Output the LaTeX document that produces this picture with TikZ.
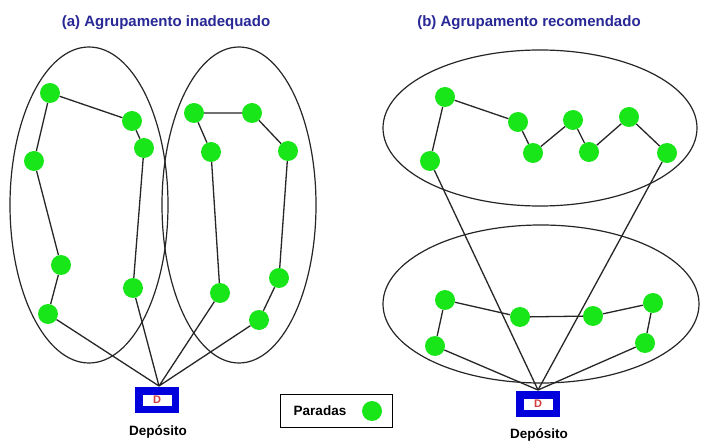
\documentclass[tikz,border=0pt]{standalone}
\usepackage{fontspec}
\setmainfont{Liberation Sans}
\definecolor{stopgreen}{RGB}{25,230,25}
\definecolor{titleblue}{RGB}{40,40,150}
\definecolor{depotblue}{RGB}{0,0,220}
\definecolor{dred}{RGB}{210,60,60}
\begin{document}
\begin{tikzpicture}[x=1pt,y=-1pt,
  stop/.style={circle,fill=stopgreen,minimum size=20pt,inner sep=0pt},
  route/.style={draw=black!85,line width=1.3pt},
  zone/.style={draw=black!85,line width=1.2pt},
  depot/.style={draw=depotblue,line width=7.5pt,fill=white,minimum width=36.5pt,minimum height=18.5pt,inner sep=0pt,font=\bfseries\fontsize{11}{11}\selectfont,text=dred},
  ttl/.style={font=\bfseries\fontsize{15}{17}\selectfont,text=titleblue},
  lbl/.style={font=\bfseries\fontsize{13.5}{15}\selectfont}]
\useasboundingbox (0,0) rectangle (701,443);
\fill[white] (0,0) rectangle (701,443);

% titles
\node[ttl] (ta) at (166,23) {(a) Agrupamento inadequado};
\node[ttl] (tb) at (529,23) {(b) Agrupamento recomendado};

% zones
\draw[zone] (89,205) ellipse [x radius=79, y radius=158];
\draw[zone] (239,205) ellipse [x radius=77, y radius=158];
\draw[zone] (540,128) ellipse [x radius=157, y radius=78];
\draw[zone] (541,304) ellipse [x radius=158, y radius=79];

% depots
\node[depot] (D1) at (157,400) {D};
\node[lbl] (D1l) at (158,432) {Depósito};
\coordinate (d1) at (159,386);
\node[depot] (D2) at (538,404) {D};
\node[lbl] (D2l) at (539,435) {Depósito};
\coordinate (d2) at (538,390);

% left panel stops
\node[stop] (a1) at (50,93) {};
\node[stop] (a2) at (132,121) {};
\node[stop] (a3) at (144,148) {};
\node[stop] (a4) at (34,161) {};
\node[stop] (a5) at (61,265) {};
\node[stop] (a6) at (48,314) {};
\node[stop] (a7) at (133,288) {};
\node[stop] (b1) at (194,113) {};
\node[stop] (b2) at (252,113) {};
\node[stop] (b3) at (211,152) {};
\node[stop] (b4) at (288,151) {};
\node[stop] (b5) at (220,293) {};
\node[stop] (b6) at (279,278) {};
\node[stop] (b7) at (259,320) {};

% right panel stops
\node[stop] (c1) at (445,97) {};
\node[stop] (c2) at (430,161) {};
\node[stop] (c3) at (518,122) {};
\node[stop] (c4) at (533,153) {};
\node[stop] (c5) at (573,120) {};
\node[stop] (c6) at (589,152) {};
\node[stop] (c7) at (629,117) {};
\node[stop] (c8) at (667,153) {};
\node[stop] (e1) at (445,300) {};
\node[stop] (e2) at (435,346) {};
\node[stop] (e3) at (520,317) {};
\node[stop] (e4) at (593,316) {};
\node[stop] (e5) at (653,303) {};
\node[stop] (e6) at (645,343) {};

% routes
\draw[route] (d1) -- (a6) -- (a5) -- (a4) -- (a1) -- (a2) -- (a3) -- (a7) -- (d1);
\draw[route] (d1) -- (b5) -- (b3) -- (b1) -- (b2) -- (b4) -- (b6) -- (b7) -- (d1);
\draw[route] (d2) -- (c2) -- (c1) -- (c3) -- (c4) -- (c5) -- (c6) -- (c7) -- (c8) -- (d2);
\draw[route] (d2) -- (e2) -- (e1) -- (e3) -- (e4) -- (e5) -- (e6) -- (d2);

% legend
\node[draw=black,line width=1.8pt,minimum width=112pt,minimum height=33pt,inner sep=0pt] (leg) at (336.5,411) {};
\node[lbl] (legt) at (320,411) {Paradas};
\node[stop] (legd) at (372,411) {};
\end{tikzpicture}
\end{document}
